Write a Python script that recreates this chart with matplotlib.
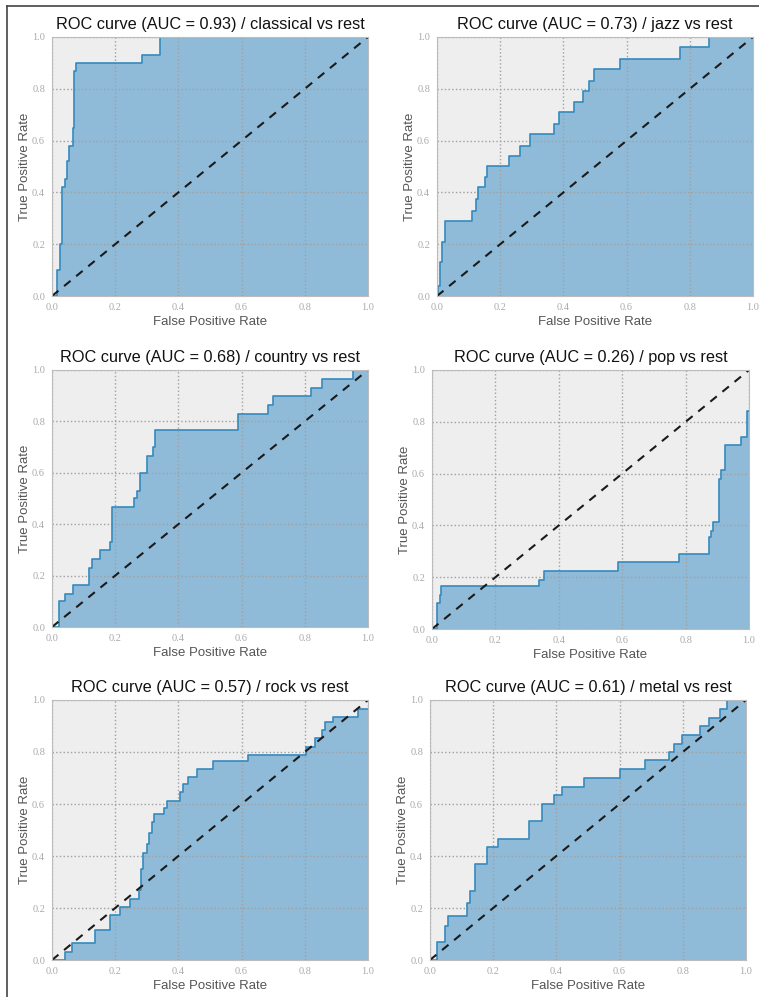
import matplotlib
matplotlib.use("Agg")
import matplotlib.pyplot as plt
from matplotlib.lines import Line2D

# ROC curves, given as (fpr at which tpr jumps, tpr after the jump)
genres = ["classical", "jazz", "country", "pop", "rock", "metal"]
aucs = [0.93, 0.73, 0.68, 0.26, 0.57, 0.61]

fpr_classical = [0.0, 0.015, 0.025, 0.033, 0.04, 0.047, 0.055, 0.065, 0.07, 0.077, 0.285, 0.342, 1.0]
tpr_classical = [0.0, 0.10, 0.20, 0.42, 0.45, 0.52, 0.58, 0.65, 0.87, 0.90, 0.93, 1.0, 1.0]

fpr_jazz = [0.0, 0.004, 0.008, 0.016, 0.026, 0.111, 0.123, 0.129, 0.153, 0.158, 0.227, 0.262,
            0.295, 0.371, 0.385, 0.435, 0.462, 0.48, 0.498, 0.578, 0.77, 0.86, 1.0]
tpr_jazz = [0.0, 0.04, 0.13, 0.21, 0.29, 0.33, 0.375, 0.42, 0.46, 0.50, 0.54, 0.58,
            0.625, 0.665, 0.71, 0.75, 0.79, 0.83, 0.875, 0.915, 0.96, 1.0, 1.0]

fpr_country = [0.0, 0.021, 0.04, 0.068, 0.116, 0.126, 0.153, 0.184, 0.189, 0.258, 0.268, 0.279,
               0.30, 0.321, 0.326, 0.589, 0.684, 0.70, 0.821, 0.853, 0.953, 1.0]
tpr_country = [0.0, 0.10, 0.13, 0.165, 0.23, 0.265, 0.30, 0.33, 0.465, 0.50, 0.53, 0.60,
               0.665, 0.70, 0.765, 0.83, 0.865, 0.90, 0.93, 0.965, 1.0, 1.0]

fpr_pop = [0.0, 0.016, 0.024, 0.029, 0.339, 0.352, 0.586, 0.78, 0.874, 0.879, 0.887, 0.906,
           0.913, 0.923, 0.976, 0.992, 1.0]
tpr_pop = [0.0, 0.10, 0.13, 0.165, 0.19, 0.225, 0.26, 0.29, 0.355, 0.38, 0.415, 0.58,
           0.615, 0.71, 0.74, 0.84, 0.84]

fpr_rock = [0.0, 0.042, 0.063, 0.137, 0.184, 0.216, 0.247, 0.274, 0.281, 0.289, 0.30, 0.307,
            0.316, 0.323, 0.353, 0.363, 0.405, 0.414, 0.432, 0.458, 0.51, 0.621, 0.803, 0.832,
            0.853, 0.863, 0.889, 0.968, 1.0]
tpr_rock = [0.0, 0.03, 0.065, 0.115, 0.175, 0.205, 0.235, 0.27, 0.35, 0.41, 0.445, 0.49,
            0.53, 0.56, 0.585, 0.61, 0.645, 0.675, 0.705, 0.735, 0.765, 0.79, 0.82, 0.855,
            0.885, 0.915, 0.935, 0.965, 0.965]

fpr_metal = [0.0, 0.021, 0.048, 0.058, 0.118, 0.128, 0.144, 0.18, 0.216, 0.314, 0.354, 0.393,
             0.417, 0.486, 0.602, 0.681, 0.758, 0.771, 0.797, 0.855, 0.882, 0.917, 0.94, 1.0]
tpr_metal = [0.0, 0.07, 0.13, 0.17, 0.22, 0.265, 0.37, 0.435, 0.465, 0.535, 0.60, 0.635,
             0.665, 0.70, 0.735, 0.77, 0.80, 0.83, 0.865, 0.90, 0.93, 0.965, 1.0, 1.0]

curves = [
    (fpr_classical, tpr_classical),
    (fpr_jazz, tpr_jazz),
    (fpr_country, tpr_country),
    (fpr_pop, tpr_pop),
    (fpr_rock, tpr_rock),
    (fpr_metal, tpr_metal),
]
ticks = [0.0, 0.2, 0.4, 0.6, 0.8, 1.0]

# axes rectangles in figure fractions (left, bottom, width, height)
rects = [
    (0.0685, 0.7031, 0.4163, 0.2598),
    (0.5758, 0.7031, 0.4163, 0.2598),
    (0.0685, 0.3711, 0.4163, 0.2578),
    (0.5692, 0.3691, 0.4177, 0.2598),
    (0.0685, 0.0371, 0.4163, 0.2608),
    (0.5665, 0.0371, 0.4163, 0.2608),
]

fig = plt.figure(figsize=(7.59, 9.97), dpi=100)

for genre, auc, (fpr, tpr), rect in zip(genres, aucs, curves, rects):
    ax = fig.add_axes(rect)
    ax.set_facecolor("#eeeeee")
    ax.fill_between(fpr, tpr, step="post", color="#8fbbd9", lw=0, zorder=2)
    ax.step(fpr, tpr, where="post", color="#348abd", lw=1.2, zorder=3)
    ax.plot([0, 1], [0, 1], "--", color="#1a1a1a", lw=1.5, dashes=(4, 3.5), zorder=4)
    ax.set_xlim(0, 1)
    ax.set_ylim(0, 1)
    ax.set_xticks(ticks)
    ax.set_yticks(ticks)
    ax.set_xticklabels(["%.1f" % t for t in ticks], family="Liberation Serif", fontsize=7.5, color="#aaaaaa")
    ax.set_yticklabels(["%.1f" % t for t in ticks], family="Liberation Serif", fontsize=7.5, color="#aaaaaa")
    ax.tick_params(length=0, pad=5)
    ax.grid(True, linestyle=":", color="#a0a0a0", lw=1, zorder=1)
    ax.set_axisbelow(False)
    for sp in ax.spines.values():
        sp.set_color("#bcbcbc")
        sp.set_zorder(5)
    ax.set_title("ROC curve (AUC = %.2f) / %s vs rest" % (auc, genre),
                 family="Liberation Sans", fontsize=11.7, color="#111111", pad=6)
    ax.set_xlabel("False Positive Rate", family="Liberation Sans", fontsize=9.5, color="#555555", labelpad=3)
    ax.set_ylabel("True Positive Rate", family="Liberation Sans", fontsize=9.5, color="#555555", labelpad=1)

# screenshot frame on the top and left edges
fig.add_artist(Line2D([0.009, 1.0], [0.994, 0.994], transform=fig.transFigure, color="#444444", lw=1.2))
fig.add_artist(Line2D([0.009, 0.009], [0.0, 0.994], transform=fig.transFigure, color="#444444", lw=1.2))

fig.savefig("out.png", dpi=100)
